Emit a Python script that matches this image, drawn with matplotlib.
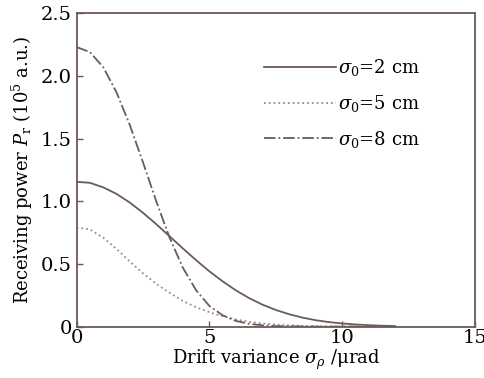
import matplotlib
matplotlib.use('Agg')
import matplotlib.pyplot as plt

plt.rcParams['font.family'] = 'DejaVu Serif'
plt.rcParams['mathtext.fontset'] = 'dejavuserif'

# values
x_vals = [0, 0.5, 1, 1.5, 2, 2.5, 3, 3.5, 4, 4.5, 5, 5.5, 6, 6.5, 7, 7.5, 8, 8.5, 9, 9.5, 10, 10.5, 11, 11.5, 12]
p_2cm = [1.155, 1.147, 1.111, 1.059, 0.99, 0.908, 0.817, 0.721, 0.624, 0.53, 0.441, 0.361, 0.289, 0.227,
         0.175, 0.133, 0.099, 0.072, 0.051, 0.036, 0.025, 0.017, 0.011, 0.007, 0.004]
p_5cm = [0.79, 0.775, 0.71, 0.62, 0.52, 0.425, 0.34, 0.27, 0.205, 0.155, 0.115, 0.082, 0.057, 0.038,
         0.025, 0.016, 0.01, 0.006, 0.003, 0.002, 0.001, 0.0, 0.0, 0.0, 0.0]
p_8cm = [2.23, 2.19, 2.07, 1.87, 1.61, 1.31, 1.0, 0.71, 0.47, 0.29, 0.165, 0.09, 0.045, 0.022,
         0.01, 0.004, 0.002, 0.001, 0.0, 0.0, 0.0, 0.0, 0.0, 0.0, 0.0]
labels = [r'$\sigma_0$=2 cm', r'$\sigma_0$=5 cm', r'$\sigma_0$=8 cm']
x_ticks = [0, 5, 10, 15]
y_ticks = [0, 0.5, 1.0, 1.5, 2.0, 2.5]
y_tick_labels = ['0', '0.5', '1.0', '1.5', '2.0', '2.5']

col = '#6b5b57'
fig = plt.figure(figsize=(4.85, 3.78), dpi=100)
ax = fig.add_axes([0.158, 0.136, 0.821, 0.829])

ax.plot(x_vals, p_2cm, '-', color=col, lw=1.3, label=labels[0])
ax.plot(x_vals, p_5cm, ':', color='#9a8c88', lw=1.3, label=labels[1])
ax.plot(x_vals, p_8cm, '-.', color=col, lw=1.3, label=labels[2])

ax.set_xlim(0, 15)
ax.set_ylim(0, 2.5)
ax.set_xticks(x_ticks)
ax.set_yticks(y_ticks)
ax.set_yticklabels(y_tick_labels)
ax.tick_params(direction='in', length=4, color=col, labelsize=14, width=1)
ax.tick_params(axis='x', pad=2)
for s in ax.spines.values():
    s.set_color(col)
    s.set_linewidth(1.3)

ax.set_xlabel(r'Drift variance $\sigma_\rho$ /μrad', fontsize=13, labelpad=0)
ax.set_ylabel(r'Receiving power $P_\mathrm{r}$ (10$^5$ a.u.)', fontsize=13, labelpad=4)

ax.legend(loc='upper left', bbox_to_anchor=(0.43, 0.912), frameon=False,
          fontsize=13, handlelength=4.0, handletextpad=0.1, labelspacing=0.82)

fig.savefig('out.png', dpi=100)
